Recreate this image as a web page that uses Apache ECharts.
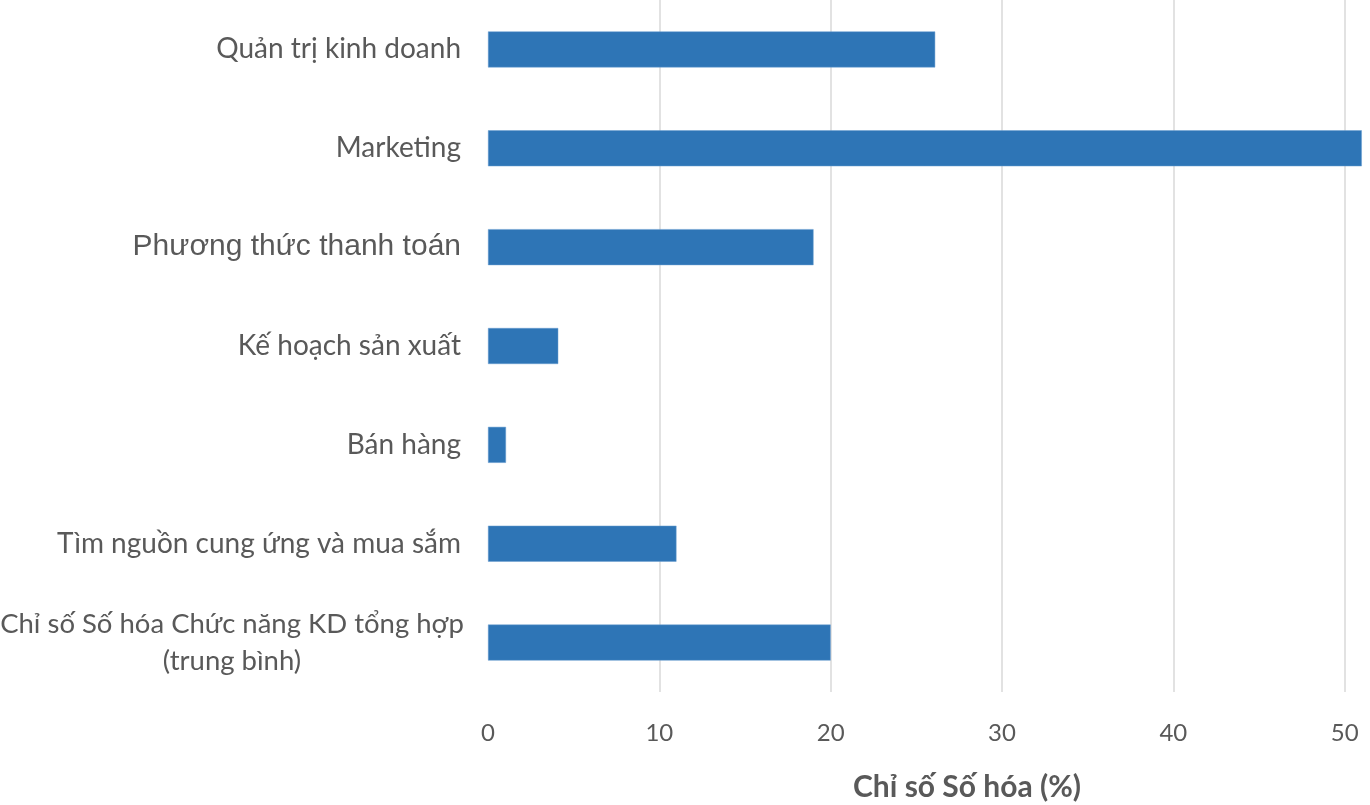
<!DOCTYPE html>
<html>
<head>
<meta charset="utf-8">
<script src="https://cdn.jsdelivr.net/npm/echarts@6/dist/echarts.min.js"></script>
<style>html,body{margin:0;padding:0;background:#fff}#c{width:1370px;height:805px}</style>
</head>
<body>
<div id="c"></div>
<script>
var categories = [
  'Quản trị kinh doanh',
  'Marketing',
  'Phương thức thanh toán',
  'Kế hoạch sản xuất',
  'Bán hàng',
  'Tìm nguồn cung ứng và mua sắm',
  'Chỉ số Số hóa Chức năng KD tổng hợp\n(trung bình)'
];
var values = [26.1, 51, 19, 4.1, 1.05, 11, 20];
var xTicks = [0, 10, 20, 30, 40, 50, 60];
var axisTitle = 'Chỉ số Số hóa (%)';

var chart = echarts.init(document.getElementById('c'));
var catData = categories.map(function (c, i) {
  if (i === 2) return { value: c, textStyle: { fontFamily: 'Liberation Sans', fontSize: 30 } };
  if (i === 6) return { value: c, textStyle: { align: 'center', fontSize: 27.5, padding: [14, 458, 0, 0], lineHeight: 37 } };
  return c;
});
chart.setOption({
  animation: false,
  grid: { left: 488, top: 0, bottom: 113, right: -146, outerBoundsMode: 'none', containLabel: false },
  xAxis: {
    type: 'value', min: xTicks[0], max: xTicks[xTicks.length - 1], interval: 10,
    axisLine: { show: false }, axisTick: { show: false },
    axisLabel: { color: '#595959', fontFamily: 'Lato', fontSize: 24, margin: 29 },
    splitLine: { show: true, lineStyle: { color: '#D9D9D9', width: 1.5 } }
  },
  yAxis: {
    type: 'category', inverse: true, data: catData,
    axisLine: { show: true, lineStyle: { color: '#ffffff', width: 3 } },
    axisTick: { show: false },
    axisLabel: { color: '#595959', fontFamily: 'Lato', fontSize: 28, margin: 27, align: 'right' }
  },
  series: [{
    type: 'bar', data: values, barWidth: 36, z: 3,
    itemStyle: { color: '#2E75B6', borderColor: '#6A9FD0', borderWidth: 0.5 }
  }],
  graphic: [{
    type: 'text', left: 853, top: 772,
    style: { text: axisTitle, font: 'bold 30px Lato', fill: '#595959' }
  }]
});
</script>
</body>
</html>
